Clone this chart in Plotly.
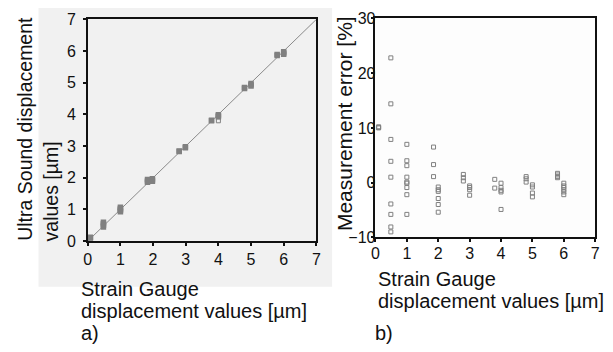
import plotly.graph_objects as go

W, H = 613, 352

# ---------------- data ----------------
# Panel a) Ultra Sound vs Strain Gauge displacement [µm]
sg_a = [0.08, 0.08, 0.08,
        0.48, 0.48, 0.48, 0.48,
        1.0, 1.0, 1.0, 1.0, 1.0,
        1.83, 1.83, 1.83,
        1.98, 1.98, 1.98,
        2.8, 2.8,
        2.99, 2.99,
        3.79, 3.79,
        4.0, 4.0, 4.0,
        4.8, 4.8,
        5.0, 5.0, 5.0,
        5.8, 5.8,
        6.0, 6.0, 6.0]
us_a = [0.10, 0.11, 0.12,
        0.45, 0.50, 0.55, 0.60,
        0.93, 0.97, 1.00, 1.03, 1.07,
        1.86, 1.90, 1.95,
        1.89, 1.93, 1.97,
        2.83, 2.85,
        2.95, 2.98,
        3.80, 3.82,
        3.93, 3.96, 3.99,
        4.82, 4.85,
        4.90, 4.94, 4.98,
        5.86, 5.89,
        5.90, 5.94, 5.98]
sg_a_open = [4.0]
us_a_open = [3.80]
ident_x = [0, 7]
ident_y = [0, 7]

# Panel b) Measurement error [%] vs Strain Gauge displacement [µm]
sg_b = [0.1, 0.1, 0.1,
        0.49, 0.49, 0.49, 0.49, 0.49, 0.49, 0.49, 0.49, 0.49,
        1.0, 1.0, 1.0, 1.0, 1.0, 1.0, 1.0, 1.0, 1.0,
        1.85, 1.85, 1.85,
        2.0, 2.0, 2.0, 2.0, 2.0, 2.0,
        2.8, 2.8, 2.8,
        3.0, 3.0, 3.0, 3.0,
        3.8, 3.8,
        4.0, 4.0, 4.0, 4.0, 4.0,
        4.8, 4.8, 4.8,
        5.0, 5.0, 5.0, 5.0,
        5.8, 5.8, 5.8, 5.8,
        6.0, 6.0, 6.0, 6.0, 6.0, 6.0]
err_b = [10.0, 10.1, 10.2,
         22.8, 14.4, 7.9, 3.9, 1.0, -3.9, -5.8, -8.1, -9.0,
         7.0, 4.0, 3.1, 1.0, 0.1, -0.1, -0.9, -2.2, -5.8,
         6.5, 3.3, 1.1,
         -0.8, -1.3, -1.6, -2.9, -4.0, -5.4,
         1.5, 0.9, 0.3,
         -0.6, -0.9, -1.3, -2.3,
         0.6, -1.0,
         -0.1, -0.9, -1.4, -1.7, -4.9,
         1.1, 0.7, 0.1,
         -0.4, -0.8, -1.9, -2.6,
         1.7, 1.4, 1.1, 0.9,
         -0.1, -0.6, -0.9, -1.3, -1.7, -2.2]

ticks = [0, 1, 2, 3, 4, 5, 6, 7]
yticks_b = [-10, 0, 10, 20, 30]

# ---------------- helpers ----------------
def X(px):
    return px / W

def Y(py):
    return 1 - py / H

FONT = "Liberation Sans, Arial, Helvetica, sans-serif"
GRAY = "#808080"

fig = go.Figure()

fig.add_trace(go.Scatter(x=ident_x, y=ident_y, mode="lines",
                         line=dict(color="#8a8a8a", width=1),
                         xaxis="x", yaxis="y", hoverinfo="skip"))
fig.add_trace(go.Scatter(x=sg_a, y=us_a, mode="markers",
                         marker=dict(symbol="square", size=5.5, color=GRAY,
                                     line=dict(width=0)),
                         xaxis="x", yaxis="y"))
fig.add_trace(go.Scatter(x=sg_a_open, y=us_a_open, mode="markers",
                         marker=dict(symbol="square-open", size=4, color=GRAY,
                                     line=dict(width=1, color=GRAY)),
                         xaxis="x", yaxis="y"))
fig.add_trace(go.Scatter(x=sg_b, y=err_b, mode="markers",
                         marker=dict(symbol="square-open", size=4, color=GRAY,
                                     line=dict(width=1, color=GRAY)),
                         xaxis="x2", yaxis="y2"))

axis_common = dict(showgrid=False, zeroline=False, showline=True,
                   linecolor="#111", linewidth=1.5, mirror=True,
                   ticks="outside", ticklen=3, tickwidth=1.5, tickcolor="#111",
                   tickfont=dict(family=FONT, size=16, color="#111"))

fig.update_layout(
    width=W, height=H,
    margin=dict(l=0, r=0, t=0, b=0),
    paper_bgcolor="white",
    plot_bgcolor="#fdfdfd",
    showlegend=False,
    font=dict(family=FONT, color="#111"),
    xaxis=dict(domain=[X(85), X(317)], range=[0, 7], tickvals=ticks,
               anchor="y", **axis_common),
    yaxis=dict(domain=[Y(245), Y(12)], range=[0, 7], tickvals=ticks,
               anchor="x", ticklabelstandoff=4, **axis_common),
    xaxis2=dict(domain=[X(377), X(600)], range=[0, 7], tickvals=ticks,
                anchor="y2", ticklabelstandoff=-2, **axis_common),
    yaxis2=dict(domain=[Y(241), Y(11)], range=[-10, 30], tickvals=yticks_b,
                anchor="x2", ticklabelstandoff=-8, **axis_common),
)

# light gray panel behind a)
fig.add_shape(type="rect", xref="paper", yref="paper",
              x0=X(35), x1=X(333), y0=Y(293), y1=Y(0),
              fillcolor="#f1f1f1", line=dict(width=0), layer="below")

TF = dict(family=FONT, size=20, color="#111")
ann = [
    dict(text="Ultra Sound displacement", x=X(21), y=Y(246), xanchor="center",
         yanchor="bottom", textangle=-90, size=19.5),
    dict(text="values [µm]", x=X(48), y=Y(246), xanchor="center",
         yanchor="bottom", textangle=-90, size=19.5),
    dict(text="Measurement error [%]", x=X(345), y=Y(121), xanchor="center",
         yanchor="middle", textangle=-90, size=21),
    dict(text="Strain Gauge", x=X(77), y=Y(295), xanchor="left", yanchor="middle"),
    dict(text="displacement values [µm]", x=X(77), y=Y(318), xanchor="left",
         yanchor="middle"),
    dict(text="a)", x=X(77), y=Y(341), xanchor="left", yanchor="middle"),
    dict(text="Strain Gauge", x=X(379), y=Y(285), xanchor="left", yanchor="middle"),
    dict(text="displacement values [µm]", x=X(379), y=Y(308), xanchor="left",
         yanchor="middle"),
    dict(text="b)", x=X(376), y=Y(342), xanchor="left", yanchor="middle"),
]
for a in ann:
    size = a.pop("size", 20)
    fig.add_annotation(xref="paper", yref="paper", showarrow=False,
                       font=dict(TF, size=size), borderpad=0, **a)

fig.write_html("out.html")
